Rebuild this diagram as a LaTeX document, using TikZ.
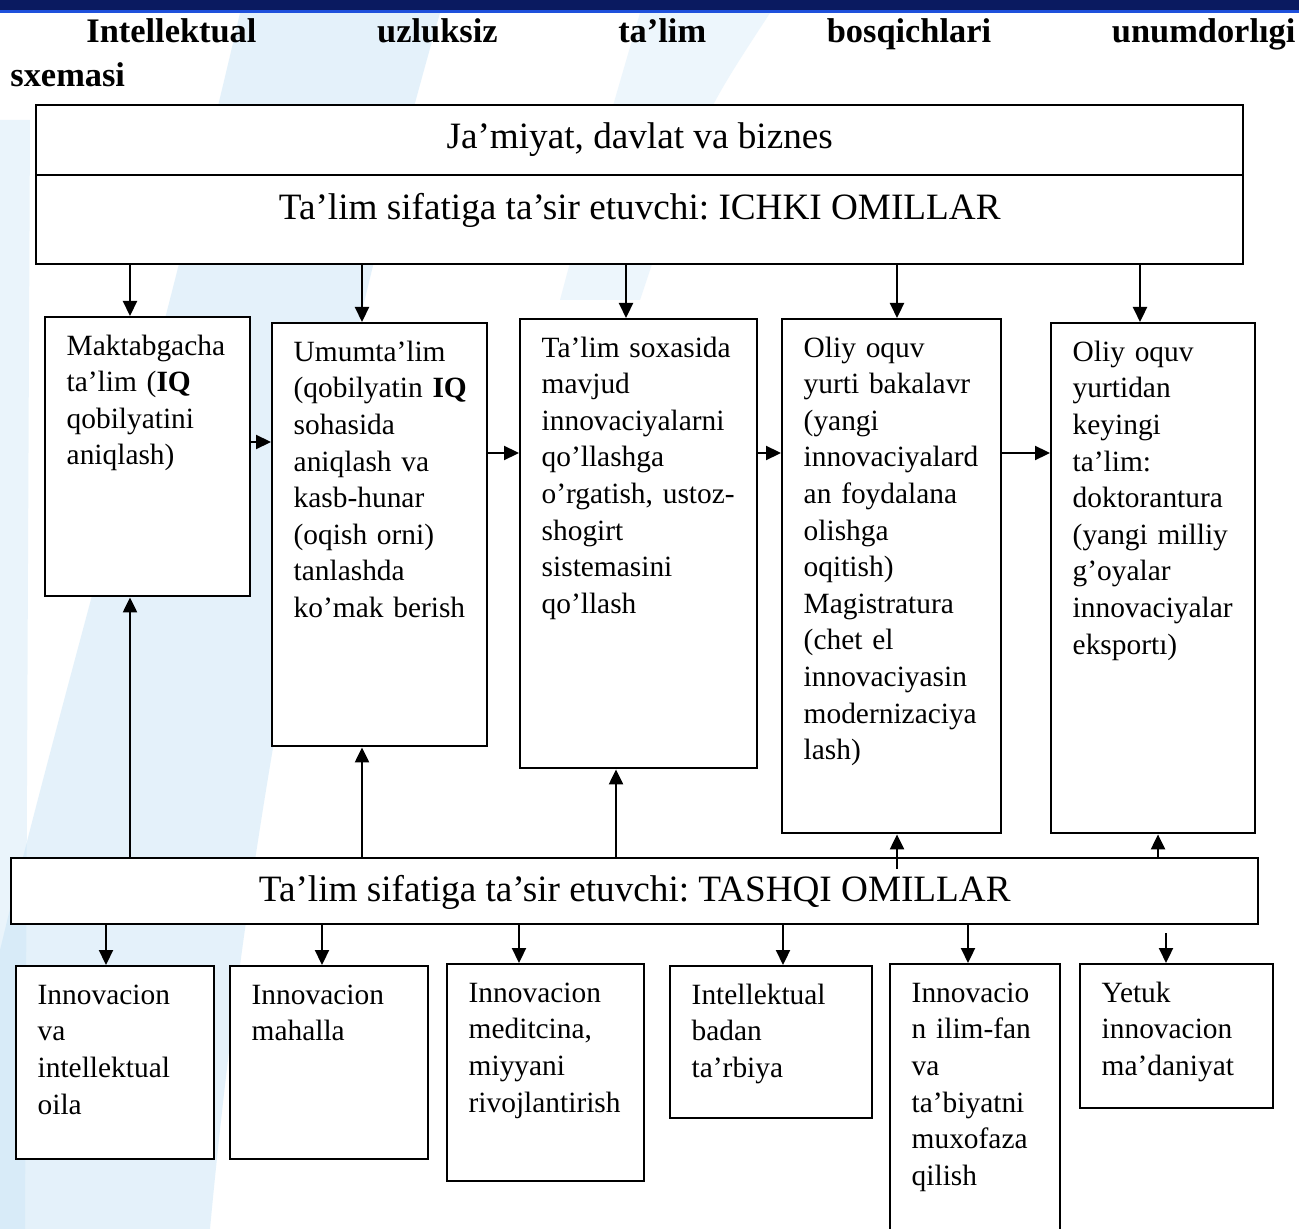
\documentclass[tikz,border=0pt]{standalone}
\usepackage{fontspec}
\setmainfont{Liberation Serif}
\usetikzlibrary{arrows.meta}
\hyphenpenalty=10000
\exhyphenpenalty=10000
\frenchspacing

\definecolor{barblue}{RGB}{10,26,96}
\definecolor{lineblue}{RGB}{30,80,220}
\definecolor{swoosh}{RGB}{196,226,246}

\tikzset{
  link/.style={line width=1.1pt,-{Triangle[length=7.5pt,width=7pt]}},
  factor/.style={draw,line width=1.2pt,fill=white,anchor=north west,inner sep=0pt,
    font=\fontsize{18.6}{22}\selectfont},
  stage/.style={draw,line width=1.2pt,fill=white,anchor=north west,align=left,
    inner xsep=10.75pt,inner ysep=0pt,text height=19pt,
    font=\fontsize{14.7}{18.3}\selectfont}
}

\begin{document}
\begin{tikzpicture}[x=0.5pt,y=-0.5pt]
  \useasboundingbox (0,0) rectangle (1299,1229);
  % background
  \fill[white] (0,0) rectangle (1299,1229);
  \fill[swoosh,opacity=0.45] (240,13) .. controls (150,400) and (60,700) .. (0,950)
    -- (0,1229) -- (210,1229) .. controls (250,800) and (330,400) .. (440,13) -- cycle;
  \fill[swoosh,opacity=0.35] (0,120) -- (30,120) -- (25,1229) -- (0,1229) -- cycle;
  \fill[swoosh,opacity=0.3] (640,13) -- (770,13) .. controls (700,120) .. (640,300)
    -- (560,300) .. controls (600,150) .. (640,13) -- cycle;
  \fill[barblue] (0,0) rectangle (1299,10);
  \fill[lineblue] (0,10) rectangle (1299,13);

  % title
  \node[anchor=base west,inner sep=0pt,text width=642.5pt,align=left,
    font=\bfseries\fontsize{17.2}{22}\selectfont] (title) at (10,43)
    {\leavevmode\hbox to 642.5pt{\hskip38pt Intellektual\hfill uzluksiz\hfill ta’lim\hfill
      bosqichlari\hfill unumdorlıgi}\\sxemasi};

  % ichki omillar
  \node[factor,minimum width=603.5pt,text height=21.5pt,text depth=14pt] (jamiyat) at (35,104)
    {Ja’miyat, davlat va biznes};
  \node[factor,minimum width=603.5pt,text height=22pt,text depth=22.5pt] (ichki) at (35,174)
    {Ta’lim sifatiga ta’sir etuvchi: ICHKI OMILLAR};

  % bosqichlar
  \node[stage,text width=81pt,text depth=120.5pt] (maktab) at (44,316)
    {Maktabgacha\\ta’lim~(\textbf{IQ}\\qobilyatini\\aniqlash)};
  \node[stage,text width=86pt,text depth=192.5pt] (umumiy) at (271,322)
    {Umumta’lim\\(qobilyatin~\textbf{IQ}\\sohasida\\aniqlash~va\\kasb-hunar\\(oqish~orni)\\tanlashda\\ko’mak~berish};
  \node[stage,text width=97pt,text depth=205.5pt] (soxa) at (519,318)
    {Ta’lim~soxasida\\mavjud\\innovaciyalarni\\qo’llashga\\o’rgatish,~ustoz-\\shogirt\\sistemasini\\qo’llash};
  \node[stage,text width=88pt,text depth=238pt] (oliy) at (781,318)
    {Oliy~oquv\\yurti~bakalavr\\(yangi\\innovaciyalard\\an~foydalana\\olishga\\oqitish)\\Magistratura\\(chet~el\\innovaciyasin\\modernizaciya\\lash)};
  \node[stage,text width=80.5pt,text depth=236pt] (doktor) at (1050,322)
    {Oliy~oquv\\yurtidan\\keyingi\\ta’lim:\\doktorantura\\(yangi~milliy\\g’oyalar\\innovaciyalar\\eksportı)};

  % tashqi omillar
  \node[factor,minimum width=623.5pt,text height=21.5pt,text depth=11.5pt] (tashqi) at (10,857)
    {Ta’lim sifatiga ta’sir etuvchi: TASHQI OMILLAR};

  \node[stage,text width=77.5pt,text depth=77.5pt] (oila) at (15,965)
    {Innovacion\\va\\intellektual\\oila};
  \node[stage,text width=77.5pt,text depth=77.5pt] (mahalla) at (229,965)
    {Innovacion\\mahalla};
  \node[stage,text width=77pt,text depth=89.5pt] (tibbiyot) at (446,963)
    {Innovacion\\meditcina,\\miyyani\\rivojlantirish};
  \node[stage,text width=79.5pt,text depth=57pt] (badan) at (669,965)
    {Intellektual\\badan\\ta’rbiya};
  \node[stage,text width=63.5pt,text depth=123pt] (ilm) at (889,963)
    {Innovacio\\n~ilim-fan\\va\\ta’biyatni\\muxofaza\\qilish};
  \node[stage,text width=75pt,text depth=53pt] (madaniyat) at (1079,963)
    {Yetuk\\innovacion\\ma’daniyat};

  % strelkalar
  \foreach \n/\x in {maktab/130,umumiy/362,soxa/626,oliy/897,doktor/1140}
    \draw[link] (ichki.south -| \x,0) -- (\n.north -| \x,0);
  \foreach \a/\b/\y in {maktab/umumiy/442,umumiy/soxa/453,soxa/oliy/453,oliy/doktor/453}
    \draw[link] (\a.east |- 0,\y) -- (\b.west |- 0,\y);
  \foreach \n/\x in {maktab/130,umumiy/362,soxa/616,doktor/1158}
    \draw[link] (tashqi.north -| \x,0) -- (\n.south -| \x,0);
  \draw[link] ([yshift=-6pt]tashqi.north -| 897,0) -- (oliy.south -| 897,0);
  \foreach \n/\x in {oila/106,mahalla/322,tibbiyot/519,badan/783,ilm/968}
    \draw[link] (tashqi.south -| \x,0) -- (\n.north -| \x,0);
  \draw[link] ([yshift=-4pt]tashqi.south -| 1166,0) -- (madaniyat.north -| 1166,0);
\end{tikzpicture}
\end{document}
